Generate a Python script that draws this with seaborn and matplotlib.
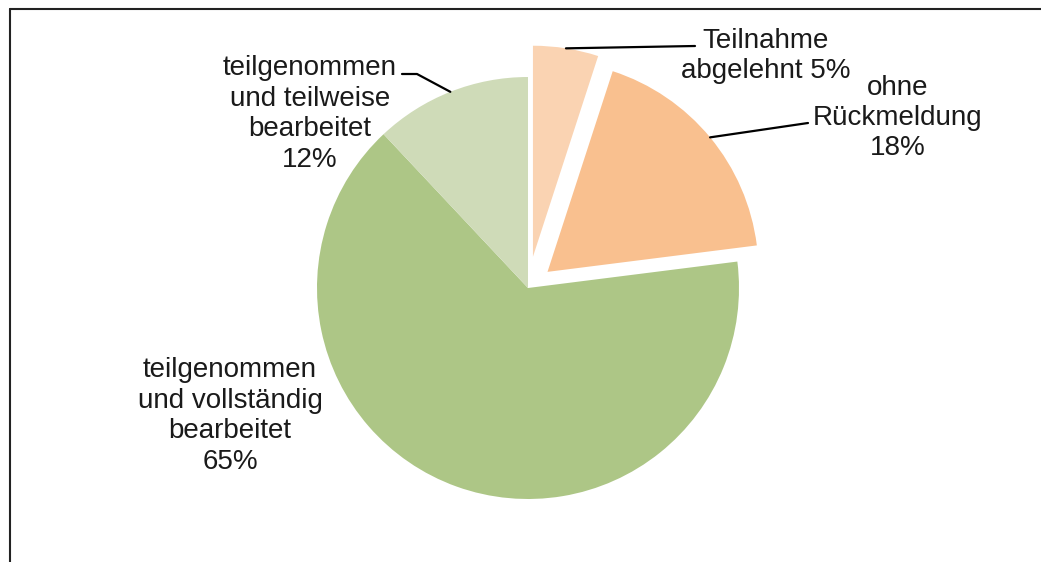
import numpy as np
import matplotlib
matplotlib.use("Agg")
import matplotlib.pyplot as plt
import seaborn as sns
from matplotlib.lines import Line2D

sns.set_theme(style="white")
plt.rcParams['font.family'] = ['Liberation Sans', 'DejaVu Sans']

# data
labels = ["Teilnahme\nabgelehnt 5%", "ohne\nRückmeldung\n18%",
          "teilgenommen\nund vollständig\nbearbeitet\n65%",
          "teilgenommen\nund teilweise\nbearbeitet\n12%"]
values = [5, 18, 65, 12]
colors = ["#fad3b2", "#f9c08f", "#adc686", "#cfdbb8"]
explode = [0.15, 0.12, 0, 0]

fig = plt.figure(figsize=(10.41, 5.62), dpi=100)
ax = fig.add_axes([0, 0, 1, 1])

wedges, _ = ax.pie(values, colors=colors, explode=explode, startangle=90,
                   counterclock=False, wedgeprops=dict(linewidth=0))

# 1 data unit = 211 px, pie centre at (528, 288) px
R = 211.0
ax.set_xlim(-528 / R, (1041 - 528) / R)
ax.set_ylim(-(562 - 288) / R, 288 / R)
ax.axis("off")

def px(x, y):
    return ((x - 528) / R, (288 - y) / R)

def arc_mid(w):
    a = np.deg2rad((w.theta1 + w.theta2) / 2)
    cx, cy = w.center
    return cx + w.r * np.cos(a), cy + w.r * np.sin(a)

tc = "#1a1a1a"
fs = 20
ls = 1.22

# Teilnahme abgelehnt
x0, y0 = arc_mid(wedges[0])
x1, y1 = px(695, 46)
ax.plot([x0, x1], [y0, y1], color="black", lw=1.6)
tx, ty = px(766, 56)
ax.text(tx, ty, labels[0], ha="center", va="center", fontsize=fs, color=tc, linespacing=1.15)

# ohne Rückmeldung
x0, y0 = arc_mid(wedges[1])
x1, y1 = px(808, 123)
ax.plot([x0, x1], [y0, y1], color="black", lw=1.6)
tx, ty = px(898, 118)
ax.text(tx, ty, labels[1], ha="center", va="center", fontsize=fs, color=tc, linespacing=ls)

# teilweise bearbeitet
x0, y0 = arc_mid(wedges[3])
xa, ya = px(417, 74)
xb, yb = px(402, 74)
ax.plot([x0, xa, xb], [y0, ya, yb], color="black", lw=1.6)
tx, ty = px(310, 114)
ax.text(tx, ty, labels[3], ha="center", va="center", fontsize=fs, color=tc, linespacing=ls)

# vollständig bearbeitet
tx, ty = px(230, 416)
ax.text(tx, ty, labels[2], ha="center", va="center", fontsize=fs, color=tc, linespacing=ls)

# outer frame (top and left edges)
fig.add_artist(Line2D([10 / 1041, 10 / 1041], [0, 1 - 9 / 562], color="#222222", lw=1.5))
fig.add_artist(Line2D([10 / 1041, 1], [1 - 9 / 562, 1 - 9 / 562], color="#222222", lw=1.5))

fig.savefig("out.png", dpi=100, facecolor="white")
